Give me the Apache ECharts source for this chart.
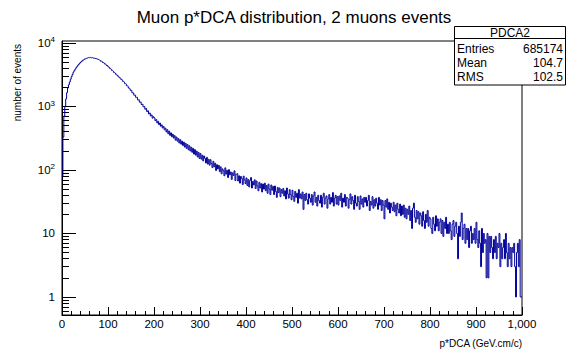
<!DOCTYPE html>
<html>
<head>
<meta charset="utf-8">
<script src="https://cdn.jsdelivr.net/npm/echarts@6/dist/echarts.min.js"></script>
<style>
html,body{margin:0;padding:0;background:#fff;}
#chart{width:567px;height:351px;}
</style>
</head>
<body>
<div id="chart"></div>
<script>
// ---- data (histogram of p*DCA, bin width 2 GeV.cm/c, 0..1000) ----
const xRange = [0, 1000];
const countsRise = [80, 330, 705, 1010, 1315, 1650, 1960, 2200, 2430, 2690,
  2940, 3190, 3470, 3660, 3870, 4070, 4270, 4470, 4630, 4810,
  4990, 5120, 5330, 5420, 5580];
const countsPeak = [5640, 5770, 5800, 5910, 5840, 5930, 5850, 5880, 5790, 5760,
  5740, 5660, 5640, 5530, 5480, 5360, 5290, 5140, 5080, 4930,
  4850, 4680, 4590, 4430, 4350];
const countsFall = [4180, 4080, 3920, 3830, 3670, 3590, 3440, 3370, 3220, 3160,
  3020, 2960, 2830, 2780, 2650, 2600, 2470, 2420, 2290, 2250,
  2120, 2080, 1950, 1910, 1800, 1780, 1640, 1630, 1505, 1510,
  1390, 1395, 1270, 1280, 1170, 1180, 1075, 1090, 990, 1000,
  905, 930, 830, 855, 762, 790, 708, 735, 655, 688];
const countsShoulder = [661, 598, 622, 551, 584, 517, 549, 488, 513, 458,
  483, 429, 455, 398, 431, 372, 409, 351, 384, 333,
  366, 318, 347, 295, 330, 284, 312, 266, 301, 255,
  285, 243, 274, 229, 262, 219, 251, 208, 240, 199,
  228, 190, 219, 178, 209, 171, 198, 160, 189, 152];
const countsMid = [182, 148, 171, 139, 166, 152, 129, 158, 124, 147,
  119, 145, 126, 109, 137, 112, 128, 98, 121, 104,
  118, 94, 112, 87, 104, 97, 81, 108, 86, 99,
  76, 101, 84, 93, 71, 90, 82, 97, 68, 86,
  88, 67, 81, 62, 79, 73, 59, 80, 70, 61,
  75, 57, 71, 54, 68, 76, 52, 66, 58, 70,
  51, 67, 56, 47, 64, 52, 61, 45, 60, 50,
  62, 47, 57, 43, 60, 50, 41, 58, 48, 55,
  41, 56, 46, 37, 53, 44, 52, 38, 49, 43,
  51, 39, 47, 35, 52, 42, 36, 49, 41, 34];
const countsPlateau = [48, 38, 32, 46, 37, 43, 30, 49, 36, 42,
  35, 45, 24, 41, 33, 43, 34, 29, 42, 36,
  31, 41, 28, 39, 45, 31, 37, 27, 40, 33,
  30, 40, 26, 37, 43, 29, 36, 39, 25, 35,
  41, 29, 37, 31, 44, 27, 36, 40, 29, 38,
  28, 39, 33, 43, 26, 36, 31, 41, 27, 37,
  36, 25, 34, 42, 29, 38, 33, 24, 40, 30,
  27, 38, 32, 24, 39, 29, 35, 26, 37, 31,
  37, 27, 33, 40, 23, 32, 28, 38, 25, 34,
  27, 36, 30, 24, 37, 28, 34, 23, 33, 28];
const countsTail = [17, 33, 26, 35, 24, 31, 21, 30, 26, 23,
  31, 22, 28, 19, 30, 24, 21, 29, 19, 27,
  20, 28, 18, 25, 17, 24, 20, 27, 16, 23,
  12, 25, 30, 18, 15, 23, 17, 22, 14, 21,
  19, 13, 22, 16, 12, 20, 15, 23, 13, 18,
  17, 12, 10, 18, 14, 11, 19, 13, 17, 11,
  15, 17, 10, 16, 9, 15, 12, 18, 10, 14,
  10, 15, 11, 8, 14, 16, 9, 13, 15, 10,
  4, 13, 9, 15, 21, 8, 12, 14, 7, 12,
  8, 12, 6, 11, 13, 7, 10, 8, 12, 7,
  15, 8, 6, 11, 7, 3, 12, 5, 10, 7,
  8, 2, 10, 2, 9, 5, 9, 6, 4, 8,
  5, 9, 4, 7, 6, 10, 3, 7, 4, 6,
  8, 4, 10, 5, 3, 7, 4, 6, 3, 6,
  5, 7, 3, 1, 5, 7, 3, 8, 1, 1];
const xTicks = [0, 100, 200, 300, 400, 500, 600, 700, 800, 900, 1000];
const yMajorTicks = [1, 10, 100, 1000, 10000];
const yMinorTicks = [0.6, 0.7, 0.8, 0.9, 2, 3, 4, 5, 6, 7, 8, 9,
  20, 30, 40, 50, 60, 70, 80, 90, 200, 300, 400, 500, 600, 700, 800, 900,
  2000, 3000, 4000, 5000, 6000, 7000, 8000, 9000];
const yRange = [0.52, 10740];
const statsRows = [['Entries', '685174'], ['Mean', '104.7'], ['RMS', '102.5']];
const histName = 'PDCA2';
const titleText = 'Muon p*DCA distribution, 2 muons events';
const xTitle = 'p*DCA (GeV.cm/c)';
const yTitle = 'number of events';

// ---- build step histogram (bin left edges + closing edge) ----
const counts = [].concat(countsRise, countsPeak, countsFall, countsShoulder, countsMid, countsPlateau, countsTail);
const binW = (xRange[1] - xRange[0]) / counts.length;
const histData = counts.map((c, i) => [xRange[0] + i * binW, c]);
histData.push([xRange[1], counts[counts.length - 1]]);

const FONT = 'Liberation Sans, Arial, Helvetica, sans-serif';

function yLabel(v) {
  const e = Math.round(Math.log10(v));
  if (e <= 1) return String(Math.round(v));
  return '{b|10}{s|' + e + '}';
}

const chart = echarts.init(document.getElementById('chart'), null, {renderer: 'svg'});

const graphics = [
  {type: 'text', x: 294, y: 17, style: {text: titleText, fontSize: 17, fontFamily: FONT, fill: '#000',
    textAlign: 'center', textVerticalAlign: 'middle', align: 'center', verticalAlign: 'middle'}},
  {type: 'text', x: 522, y: 343, style: {text: xTitle, fontSize: 10, fontFamily: FONT, fill: '#000',
    textAlign: 'right', textVerticalAlign: 'middle', align: 'right', verticalAlign: 'middle'}},
  {type: 'text', x: 17, y: 44, rotation: Math.PI / 2, style: {text: yTitle, fontSize: 10, fontFamily: FONT, fill: '#000',
    textAlign: 'right', textVerticalAlign: 'middle', align: 'right', verticalAlign: 'middle'}},
  {type: 'rect', shape: {x: 454.5, y: 26.5, width: 111, height: 58.5}, style: {fill: '#fff', stroke: '#000', lineWidth: 1}, z: 100},
  {type: 'line', shape: {x1: 454.5, y1: 38.5, x2: 565.5, y2: 38.5}, style: {stroke: '#000', lineWidth: 1}, z: 101},
  {type: 'text', x: 510, y: 32.5, z: 102, style: {text: histName, fontSize: 12, fontFamily: FONT, fill: '#000',
    textAlign: 'center', textVerticalAlign: 'middle', align: 'center', verticalAlign: 'middle'}}
];
statsRows.forEach((r, i) => {
  const y = 49 + i * 14;
  graphics.push({type: 'text', x: 457, y: y, z: 102, style: {text: r[0], fontSize: 12, fontFamily: FONT, fill: '#000',
    textAlign: 'left', textVerticalAlign: 'middle', align: 'left', verticalAlign: 'middle'}});
  graphics.push({type: 'text', x: 563, y: y, z: 102, style: {text: r[1], fontSize: 12, fontFamily: FONT, fill: '#000',
    textAlign: 'right', textVerticalAlign: 'middle', align: 'right', verticalAlign: 'middle'}});
});

const option = {
  animation: false,
  backgroundColor: '#fff',
  grid: {left: 62, right: 45, top: 41, bottom: 36, show: true, borderColor: '#000', borderWidth: 1, backgroundColor: 'transparent'},
  xAxis: {
    type: 'value', min: xRange[0], max: xRange[1], interval: 100,
    axisLine: {show: true, lineStyle: {color: '#000', width: 1}},
    axisTick: {show: true, inside: true, length: 8, lineStyle: {color: '#000'}},
    minorTick: {show: true, splitNumber: 5, length: 4, lineStyle: {color: '#000'}},
    axisLabel: {show: true, margin: 3, fontSize: 11.5, fontFamily: FONT, color: '#000',
      customValues: xTicks},
    splitLine: {show: false}, minorSplitLine: {show: false}
  },
  yAxis: [
    {
      type: 'log', logBase: 10, min: yRange[0], max: yRange[1],
      axisLine: {show: true, lineStyle: {color: '#000', width: 1}},
      axisTick: {show: true, inside: true, length: 14, lineStyle: {color: '#000'}, customValues: yMajorTicks},
      axisLabel: {show: true, margin: 7, fontSize: 11.5, fontFamily: FONT, color: '#000',
        customValues: yMajorTicks, formatter: yLabel,
        rich: {b: {fontSize: 11.5, fontFamily: FONT, color: '#000', lineHeight: 14},
               s: {fontSize: 8, fontFamily: FONT, color: '#000', lineHeight: 8, verticalAlign: 'top'}}},
      splitLine: {show: false}
    },
    {
      type: 'log', logBase: 10, min: yRange[0], max: yRange[1], position: 'left',
      axisLine: {show: false},
      axisTick: {show: true, inside: true, length: 7, lineStyle: {color: '#000'}, customValues: yMinorTicks},
      axisLabel: {show: false},
      splitLine: {show: false}
    }
  ],
  graphic: graphics,
  series: [{
    type: 'line', name: histName, data: histData, step: 'end', showSymbol: false, symbol: 'none',
    xAxisIndex: 0, yAxisIndex: 0,
    lineStyle: {color: '#000099', width: 1}, clip: true, z: 3
  }]
};
chart.setOption(option);
</script>
</body>
</html>
